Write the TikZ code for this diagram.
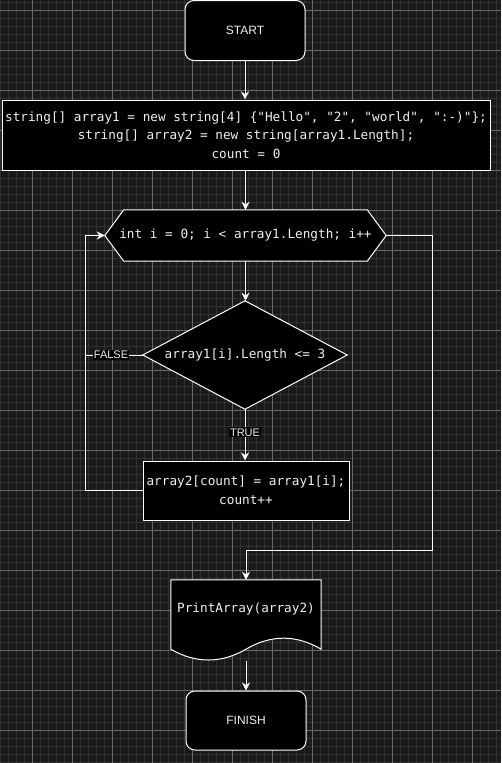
\documentclass[tikz,border=0pt]{standalone}
\usepackage{fontspec}
\setmainfont{Liberation Sans}
\newfontfamily\codefont{DejaVu Sans Mono}
\usetikzlibrary{arrows.meta,calc}

\pgfdeclarelayer{grid}
\pgfdeclarelayer{shapes}
\pgfsetlayers{grid,shapes,main}

\definecolor{canvas}{HTML}{1A1A1A}
\definecolor{gridminor}{HTML}{313131}
\definecolor{gridmajor}{HTML}{686868}
\definecolor{ink}{HTML}{F0F0F0}

\tikzset{
  terminal/.style={draw=white, fill=black, line width=1pt, rounded corners=9pt,
    text=ink, font=\fontsize{12}{14}\selectfont, inner sep=0pt,
    minimum width=120pt, minimum height=60pt},
  process/.style={draw=white, fill=black, line width=1pt, text=ink,
    font=\codefont\fontsize{12.7}{18.5}\selectfont, align=center, inner sep=1pt},
  frame/.style={text=ink, font=\codefont\fontsize{12.7}{18.5}\selectfont,
    align=center, inner sep=0pt},
  codetext/.style={text=ink, font=\codefont\fontsize{12.7}{18.5}\selectfont, inner sep=0pt},
  outline/.style={draw=white, fill=black, line width=1pt, line join=miter},
  flow/.style={draw=white, line width=1pt,
    -{Stealth[length=8pt, width=8pt, inset=2.5pt]}},
  link/.style={draw=white, line width=1pt},
  lbl/.style={fill=black, text=ink, font=\fontsize{11}{12}\selectfont, inner sep=1pt},
  minorline/.style={draw=gridminor, line width=1pt},
  majorline/.style={draw=gridmajor, line width=1pt},
}

\begin{document}
\begin{tikzpicture}[x=1pt, y=-1pt]
  \useasboundingbox (0,0) rectangle (501,763);

  % canvas and grid
  \begin{pgfonlayer}{grid}
    \fill[canvas] (0,0) rectangle (501,763);
    \foreach \x in {0.5,8.5,...,500.5} \draw[minorline] (\x,0) -- (\x,763);
    \foreach \y in {2.5,10.5,...,762.5} \draw[minorline] (0,\y) -- (501,\y);
    \foreach \x in {32.5,72.5,...,500.5} \draw[majorline] (\x,0) -- (\x,763);
    \foreach \y in {10.5,50.5,...,762.5} \draw[majorline] (0,\y) -- (501,\y);
  \end{pgfonlayer}

  % blocks
  \node[terminal] (start) at (245,30.5) {START};

  \node[process, minimum width=488pt, minimum height=70pt] (init) at (246,135)
    {string[] array1 = new string[4] \{"Hello", "2", "world", ":-)"\};\\
     string[] array2 = new string[array1.Length];\\
     count = 0};

  \node[frame, minimum width=281pt, minimum height=51pt] (loop) at (245.5,235.5)
    {int i = 0; i < array1.Length; i++};

  \node[frame, minimum width=204pt, minimum height=108pt] (cond) at (245,355)
    {array1[i].Length <= 3};

  \node[process, minimum width=206pt, minimum height=59pt] (body) at (246,490.5)
    {array2[count] = array1[i];\\ count++};

  \node[frame, minimum width=150pt, minimum height=81pt,
        label={[codetext, yshift=11.5pt]center:PrintArray(array2)}] (print) at (246,620.5) {};

  \node[terminal, minimum height=59pt] (finish) at (246,720.5) {FINISH};

  % outlines of the loop, decision and output blocks
  \begin{pgfonlayer}{shapes}
    \draw[outline] (loop.west) -- ([xshift=19pt]loop.north west)
      -- ([xshift=-19pt]loop.north east) -- (loop.east)
      -- ([xshift=-19pt]loop.south east) -- ([xshift=19pt]loop.south west) -- cycle;
    \draw[outline] (cond.north) -- (cond.east) -- (cond.south) -- (cond.west) -- cycle;
    \draw[outline] (print.north west) -- (print.north east)
      -- ($(print.south east)+(0,-12)$)
      .. controls ($(print.south east)+(-25,-26.7)$) and ($(print.south)+(25,-26.7)$)
      .. ($(print.south)+(0,-12)$)
      .. controls ($(print.south)+(-25,2.4)$) and ($(print.south west)+(25,2.4)$)
      .. ($(print.south west)+(0,-12)$) -- cycle;
  \end{pgfonlayer}

  % routing points
  \coordinate (lx) at (85,355);
  \coordinate (rx) at (432,550);

  % connectors
  \draw[flow] (start.south) -- (start.south |- init.north);
  \draw[flow] (init.south -| loop.north) -- (loop.north);
  \draw[flow] (loop.south) -- (loop.south |- cond.north);
  \draw[flow] (cond.south) -- node[lbl, pos=0.45] {TRUE} (cond.south |- body.north);
  \draw[link] (cond.west) -- node[lbl, pos=0.55] {FALSE} (lx);
  \draw[flow] (body.west) -| (lx |- loop.west) -- (loop.west);
  \draw[flow] (loop.east) -| (rx) -| (print.north);
  \draw[flow] (print.south) -- (finish.north);
\end{tikzpicture}
\end{document}
